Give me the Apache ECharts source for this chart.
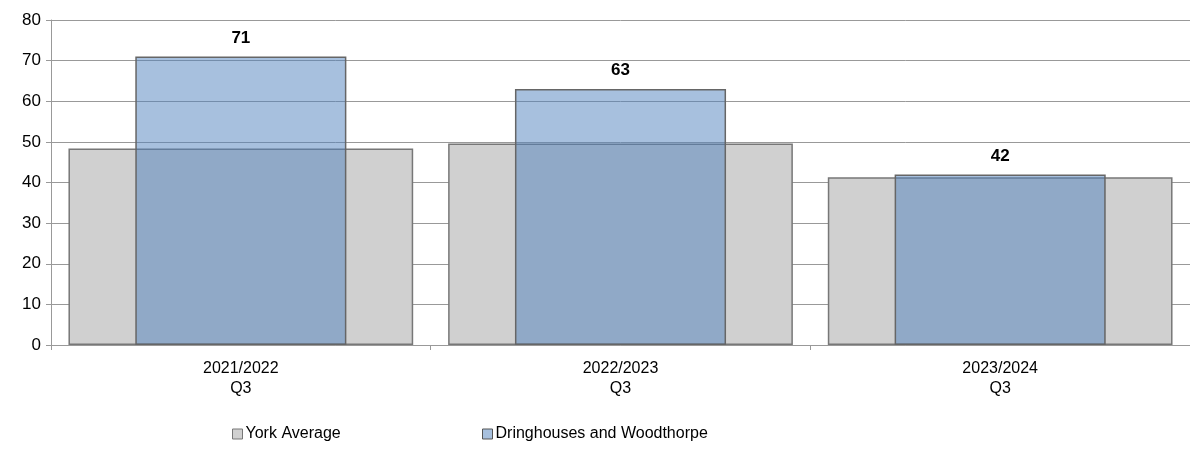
<!DOCTYPE html>
<html>
<head>
    <meta charset="utf-8">
    <title>ECharts</title>
    <script src="https://cdn.jsdelivr.net/npm/echarts@6/dist/echarts.min.js"></script>
</head>
<body style="margin:0">
    <div id="main" style="width:1190px;height:468px;"></div>
    <script type="text/javascript">
        // data
        var categories = ['2021/2022\nQ3', '2022/2023\nQ3', '2023/2024\nQ3'];
        var yorkAverage = [48.4, 49.6, 41.3];
        var dringhouses = [71, 63, 42];
        var yTicks = [0, 10, 20, 30, 40, 50, 60, 70, 80];

        var myChart = echarts.init(document.getElementById('main'));
        var font = 'Liberation Sans, Arial, sans-serif';

        myChart.setOption({
            animation: false,
            backgroundColor: '#fff',
            grid: { left: 51, right: -5, top: 20, bottom: 123 },
            legend: [
                {
                    data: ['York Average'], left: 227, top: 421,
                    itemWidth: 10, itemHeight: 10, icon: 'rect', itemGap: 4,
                    itemStyle: { borderColor: '#777', borderWidth: 1 },
                    textStyle: { fontFamily: font, fontSize: 16, color: '#000', padding: [0, 0, 0, -2] }
                },
                {
                    data: ['Dringhouses and Woodthorpe'], left: 477, top: 421,
                    itemWidth: 10, itemHeight: 10, icon: 'rect',
                    itemStyle: { borderColor: '#555', borderWidth: 1 },
                    textStyle: { fontFamily: font, fontSize: 16, color: '#000', padding: [0, 0, 0, -2] }
                }
            ],
            xAxis: [
                {
                    type: 'category', data: categories,
                    axisLine: { lineStyle: { color: '#999' } },
                    axisTick: { show: true, length: 5, lineStyle: { color: '#999' } },
                    axisLabel: { fontFamily: font, fontSize: 16, color: '#000', lineHeight: 20, margin: 14 }
                },
                { type: 'category', data: categories, show: false }
            ],
            yAxis: {
                type: 'value', min: yTicks[0], max: yTicks[yTicks.length - 1], interval: 10,
                axisLine: { show: true, lineStyle: { color: '#999' } },
                axisTick: { show: true, length: 5, lineStyle: { color: '#999' } },
                axisLabel: { fontFamily: font, fontSize: 17, color: '#000', margin: 10 },
                splitLine: { lineStyle: { color: '#999' } }
            },
            series: [
                {
                    name: 'York Average', type: 'bar', xAxisIndex: 0,
                    data: yorkAverage, barWidth: '90.8%',
                    itemStyle: { color: '#d0d0d0', borderColor: '#777', borderWidth: 1.5 }
                },
                {
                    name: 'Dringhouses and Woodthorpe', type: 'bar', xAxisIndex: 1,
                    data: dringhouses, barWidth: '55.6%',
                    itemStyle: { color: 'rgba(79,129,189,0.5)', borderColor: '#666', borderWidth: 1.5 },
                    label: {
                        show: true, position: 'top', distance: 10,
                        fontFamily: font, fontSize: 17, fontWeight: 'bold', color: '#000'
                    }
                }
            ]
        });
    </script>
</body>
</html>
